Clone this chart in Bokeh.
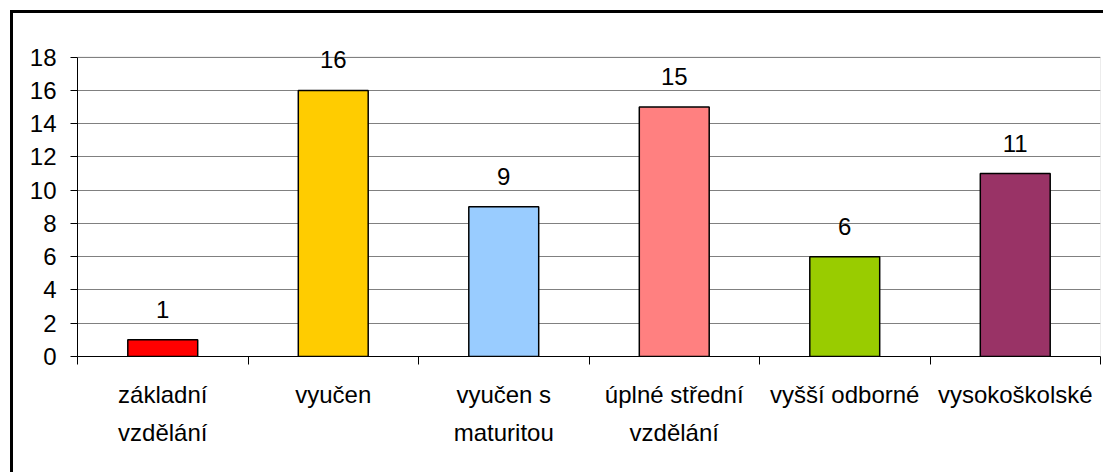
from bokeh.plotting import figure
from bokeh.models import (ColumnDataSource, LabelSet, Range1d, FixedTicker, LinearAxis,
                          BoxAnnotation)
from bokeh.core.properties import value
from bokeh.embed import file_html
from bokeh.resources import INLINE

# ---- data ----
category_labels = ["základní\nvzdělání", "vyučen", "vyučen s\nmaturitou",
                   "úplné střední\nvzdělání", "vyšší odborné", "vysokoškolské"]
categories = [c.replace("\n", " ") for c in category_labels]
values = [1, 16, 9, 15, 6, 11]
colors = ["#FF0000", "#FFCC00", "#99CCFF", "#FF8080", "#99CC00", "#993366"]
y_ticks = [0, 2, 4, 6, 8, 10, 12, 14, 16, 18]
y_max = 18

FONT_NAME = "Liberation Sans"
FONT = value(FONT_NAME)
FS = "24px"

n = len(categories)
x_pos = [i + 0.5 for i in range(n)]          # category centres on a linear scale
line1 = [c.split("\n")[0] for c in category_labels]
line2 = [c.split("\n")[1] if "\n" in c else "" for c in category_labels]

source = ColumnDataSource(dict(
    x=x_pos, cat=categories, val=values, color=colors,
    val_text=[str(v) for v in values],
))

p = figure(width=1093, height=462,
           x_range=Range1d(0, n), y_range=Range1d(0, 19),
           output_backend="svg", toolbar_location=None,
           min_border_left=64, min_border_right=6,
           min_border_top=27, min_border_bottom=119)

# outer chart frame: black border on the host element (cut off right/bottom)
p.styles = {"border-left": "3px solid black", "border-top": "3px solid black",
            "margin-left": "10px", "margin-top": "10px"}

p.background_fill_color = "white"
p.border_fill_color = "white"
p.outline_line_color = None

# plot-area border (grey) around 0..n x 0..y_max
p.add_layout(BoxAnnotation(left=0, right=n, bottom=0, top=y_max, level="underlay",
                           fill_alpha=0, line_color="#808080", line_width=1))

# x axis: boundary ticks (minor) + first label line (major, no tick mark)
xax = p.xaxis[0]
xax.ticker = FixedTicker(ticks=x_pos, minor_ticks=list(range(n + 1)))
xax.axis_line_color = "black"
xax.axis_line_width = 1
xax.major_tick_out = 0
xax.major_tick_in = 0
xax.minor_tick_line_color = "black"
xax.minor_tick_out = 8
xax.minor_tick_in = 0
xax.major_label_overrides = {x: t for x, t in zip(x_pos, line1)}
xax.major_label_text_font = FONT_NAME
xax.major_label_text_font_size = FS
xax.major_label_text_color = "black"
xax.major_label_standoff = 16

# second label line
x2 = [x for x, t in zip(x_pos, line2) if t]
xax2 = LinearAxis(ticker=FixedTicker(ticks=x2, minor_ticks=[]))
xax2.axis_line_color = None
xax2.major_tick_line_color = None
xax2.minor_tick_line_color = None
xax2.major_label_overrides = {x: t for x, t in zip(x_pos, line2) if t}
xax2.major_label_text_font = FONT_NAME
xax2.major_label_text_font_size = FS
xax2.major_label_text_color = "black"
xax2.major_label_standoff = 2
p.add_layout(xax2, "below")

# y axis
yax = p.yaxis[0]
yax.ticker = FixedTicker(ticks=y_ticks)
yax.bounds = (0, y_max)
yax.axis_line_color = "black"
yax.major_tick_line_color = "black"
yax.major_tick_out = 7
yax.major_tick_in = 0
yax.minor_tick_out = 0
yax.minor_tick_in = 0
yax.major_label_text_font = FONT_NAME
yax.major_label_text_font_size = FS
yax.major_label_text_color = "black"
yax.major_label_standoff = 14

p.ygrid.grid_line_color = "#808080"
p.ygrid.grid_line_width = 1
p.xgrid.visible = False

p.vbar(x="x", top="val", width=0.41, source=source,
       fill_color="color", line_color="black", line_width=1.5)

p.add_layout(LabelSet(x="x", y="val", text="val_text", source=source,
                      y_offset=22, text_align="center", text_baseline="alphabetic",
                      text_font=FONT, text_font_size=FS, text_color="black"))

open("out.html", "w").write(file_html(p, INLINE))
